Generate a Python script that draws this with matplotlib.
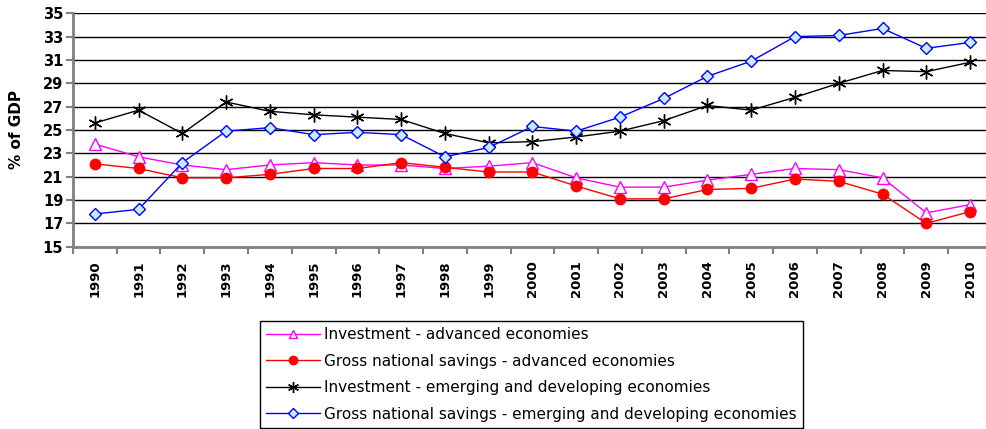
import matplotlib
matplotlib.use('Agg')
import matplotlib.pyplot as plt
import numpy as np

# Years on the x axis
years = [str(y) for y in range(1990, 2011)]

# Values (% of GDP)
inv_advanced = [23.8, 22.7, 22.0, 21.6, 22.0, 22.2, 22.0, 22.0, 21.7, 21.9, 22.2,
                20.9, 20.1, 20.1, 20.7, 21.2, 21.7, 21.6, 20.9, 17.9, 18.6]
gns_advanced = [22.1, 21.7, 20.9, 20.9, 21.2, 21.7, 21.7, 22.2, 21.8, 21.4, 21.4,
                20.2, 19.1, 19.1, 19.9, 20.0, 20.8, 20.6, 19.5, 17.0, 18.0]
inv_emerging = [25.6, 26.7, 24.7, 27.4, 26.6, 26.3, 26.1, 25.9, 24.7, 23.9, 24.0,
                24.4, 24.9, 25.8, 27.1, 26.7, 27.8, 29.0, 30.1, 30.0, 30.8]
gns_emerging = [17.8, 18.2, 22.2, 24.9, 25.2, 24.6, 24.8, 24.6, 22.7, 23.5, 25.3,
                24.9, 26.1, 27.7, 29.6, 30.9, 33.0, 33.1, 33.7, 32.0, 32.5]

labels = ['Investment - advanced economies',
          'Gross national savings - advanced economies',
          'Investment - emerging and developing economies',
          'Gross national savings - emerging and developing economies']

fig = plt.figure(figsize=(9.86, 4.29), dpi=100)
ax = fig.add_axes([0.074, 0.425, 0.932, 0.544])

x = np.arange(len(years))
ax.plot(x, inv_advanced, color='#ff00ff', lw=1, marker='^', ms=8,
        mfc='white', mec='#ff00ff', mew=1, label=labels[0], zorder=3)
ax.plot(x, gns_advanced, color='#ff0000', lw=1, marker='o', ms=7.5,
        mfc='#ff0000', mec='#ff0000', label=labels[1], zorder=3)
ax.plot(x, inv_emerging, color='black', lw=1, marker=(6, 2, 0), ms=10,
        mew=1, label=labels[2], zorder=3)
ax.plot(x, gns_emerging, color='#0000ff', lw=1, marker='D', ms=6.5,
        mfc='#c8ecff', mec='#0000ff', mew=1, label=labels[3], zorder=3)

ax.set_xlim(-0.5, 20.5)
ax.set_ylim(15, 35)
ax.set_yticks(np.arange(15, 36, 2))
ax.yaxis.grid(True, color='black', lw=1)
ax.set_axisbelow(True)

ax.set_xticks(x)
ax.set_xticklabels(years, rotation=90, fontsize=9.5, fontweight='bold')
ax.set_xticks(np.arange(-0.5, 21, 1), minor=True)
ax.tick_params(axis='x', which='major', length=0, pad=10)
ax.tick_params(axis='x', which='minor', length=5, color='#808080', width=1.5)
ax.tick_params(axis='y', length=5, color='#808080', width=1.5, labelsize=10.5, pad=2)
for t in ax.get_yticklabels():
    t.set_fontweight('bold')

for s in ['top', 'right']:
    ax.spines[s].set_visible(False)
for s in ['left', 'bottom']:
    ax.spines[s].set_color('#808080')
    ax.spines[s].set_linewidth(2)

ax.set_ylabel('% of GDP', fontsize=11, fontweight='bold')
ax.yaxis.set_label_coords(-0.053, 0.5)

leg = fig.legend(loc='lower left', bbox_to_anchor=(0.264, 0.003), fontsize=11,
                 frameon=True, fancybox=False, edgecolor='black', framealpha=1,
                 labelspacing=0.75, handlelength=3.5, handletextpad=0.3,
                 borderpad=0.4, borderaxespad=0, markerscale=0.8)
leg.get_frame().set_linewidth(1)

plt.savefig('out.png', dpi=100)
